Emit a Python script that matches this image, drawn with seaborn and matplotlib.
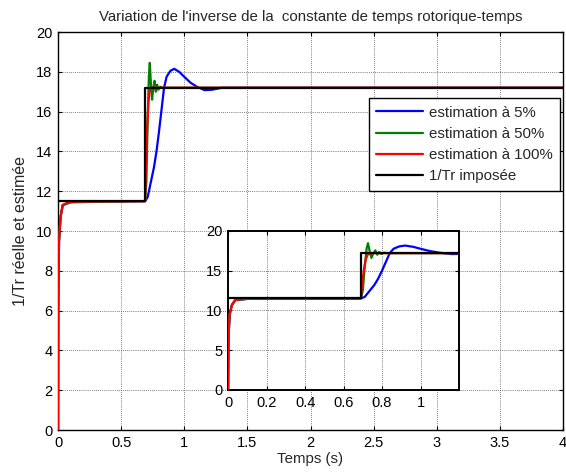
import numpy as np
import pandas as pd
import matplotlib
matplotlib.use("Agg")
import matplotlib.pyplot as plt
import seaborn as sns
from matplotlib.lines import Line2D

# ---- data ----
t_blue = [0, 0.002, 0.008, 0.02, 0.037, 0.1, 0.69, 0.71, 0.73, 0.76, 0.78, 0.80, 0.82,
          0.84, 0.86, 0.89, 0.92, 0.96, 1.0, 1.05, 1.1, 1.16, 1.22, 1.3, 4.0]
v_blue = [0, 6.5, 9.5, 10.7, 11.3, 11.45, 11.5, 11.7, 12.3, 13.2, 14.0, 15.0, 16.1,
          17.2, 17.75, 18.05, 18.15, 18.0, 17.75, 17.45, 17.25, 17.08, 17.1, 17.2, 17.2]

t_green = [0, 0.002, 0.008, 0.02, 0.037, 0.1, 0.69, 0.70, 0.71, 0.72, 0.727, 0.735, 0.745,
           0.755, 0.765, 0.775, 0.785, 0.795, 0.81, 0.83, 4.0]
v_green = [0, 6.5, 9.5, 10.7, 11.3, 11.45, 11.5, 12.5, 15.5, 17.8, 18.45, 17.5, 16.6,
           17.2, 17.55, 17.0, 17.35, 17.1, 17.25, 17.2, 17.2]

t_red = [0, 0.001, 0.002, 0.008, 0.02, 0.037, 0.07, 0.13, 0.69, 0.695, 0.705, 0.715,
         0.725, 0.74, 4.0]
v_red = [0, 3.5, 6.9, 9.5, 10.7, 11.3, 11.42, 11.48, 11.5, 13.0, 15.0, 16.4,
         17.0, 17.2, 17.2]

t_ref = [0, 0.69, 0.69, 4.0]
v_ref = [11.5, 11.5, 17.2, 17.2]

labels = ["estimation à 5%", "estimation à 50%", "estimation à 100%", "1/Tr imposée"]
colors = ["#0000ff", "#008000", "#ff0000", "#000000"]

main_xticks = [0, 0.5, 1, 1.5, 2, 2.5, 3, 3.5, 4]
main_xticklabels = ["0", "0.5", "1", "1.5", "2", "2.5", "3", "3.5", "4"]
main_yticks = list(range(0, 21, 2))
inset_xticks = [0, 0.2, 0.4, 0.6, 0.8, 1.0]
inset_xticklabels = ["0", "0.2", "0.4", "0.6", "0.8", "1"]
inset_yticks = [0, 5, 10, 15, 20]

frames = []
for t, v, lab in zip([t_blue, t_green, t_red, t_ref], [v_blue, v_green, v_red, v_ref], labels):
    frames.append(pd.DataFrame({"t": t, "v": v, "series": lab}))
df = pd.concat(frames, ignore_index=True)

sns.set_theme(style="white")
plt.rcParams["font.family"] = ["Liberation Sans", "DejaVu Sans"]

fig = plt.figure(figsize=(5.66, 4.75), dpi=100)
ax = fig.add_axes([0.1025, 0.0947, 0.8922, 0.8379])

palette = dict(zip(labels, colors))


def draw(axis):
    sns.lineplot(data=df, x="t", y="v", hue="series", hue_order=labels, palette=palette,
                 estimator=None, sort=False, units="series", ax=axis, lw=1.6,
                 legend=False, zorder=3)
    for sp in axis.spines.values():
        sp.set_color("black")
        sp.set_linewidth(1.0)
    axis.grid(True, linestyle=(0, (1, 1.5)), color="#555555", linewidth=0.6)
    axis.tick_params(direction="in", length=3, width=0.8, colors="black",
                     top=True, right=True, bottom=True, left=True)
    axis.set_xlabel("")
    axis.set_ylabel("")


draw(ax)
ax.set_xlim(0, 4)
ax.set_ylim(0, 20)
ax.set_xticks(main_xticks)
ax.set_xticklabels(main_xticklabels)
ax.set_yticks(main_yticks)
ax.tick_params(labelsize=10.5, pad=4)
ax.set_title("Variation de l'inverse de la  constante de temps rotorique-temps",
             fontsize=10.8, pad=8)
ax.set_xlabel("Temps (s)", fontsize=10.8, labelpad=2)
ax.set_ylabel("1/Tr réelle et estimée", fontsize=11.5, labelpad=6)

handles = [Line2D([0], [0], color=c, lw=1.6) for c in colors]
leg = ax.legend(handles, labels, loc="upper right", bbox_to_anchor=(0.994, 0.834),
                fontsize=10.8, frameon=True, fancybox=False, framealpha=1,
                edgecolor="black", handlelength=3.1, borderpad=0.5, labelspacing=0.48,
                handletextpad=0.4, borderaxespad=0)
leg.get_frame().set_linewidth(1.0)

axin = fig.add_axes([0.403, 0.179, 0.408, 0.335])
axin.set_facecolor("white")
draw(axin)
axin.set_xlim(0, 1.2)
axin.set_ylim(0, 20)
axin.set_xticks(inset_xticks)
axin.set_xticklabels(inset_xticklabels)
axin.set_yticks(inset_yticks)
axin.tick_params(labelsize=10.5, pad=4)
for sp in axin.spines.values():
    sp.set_linewidth(1.4)

fig.savefig("out.png", dpi=100)
